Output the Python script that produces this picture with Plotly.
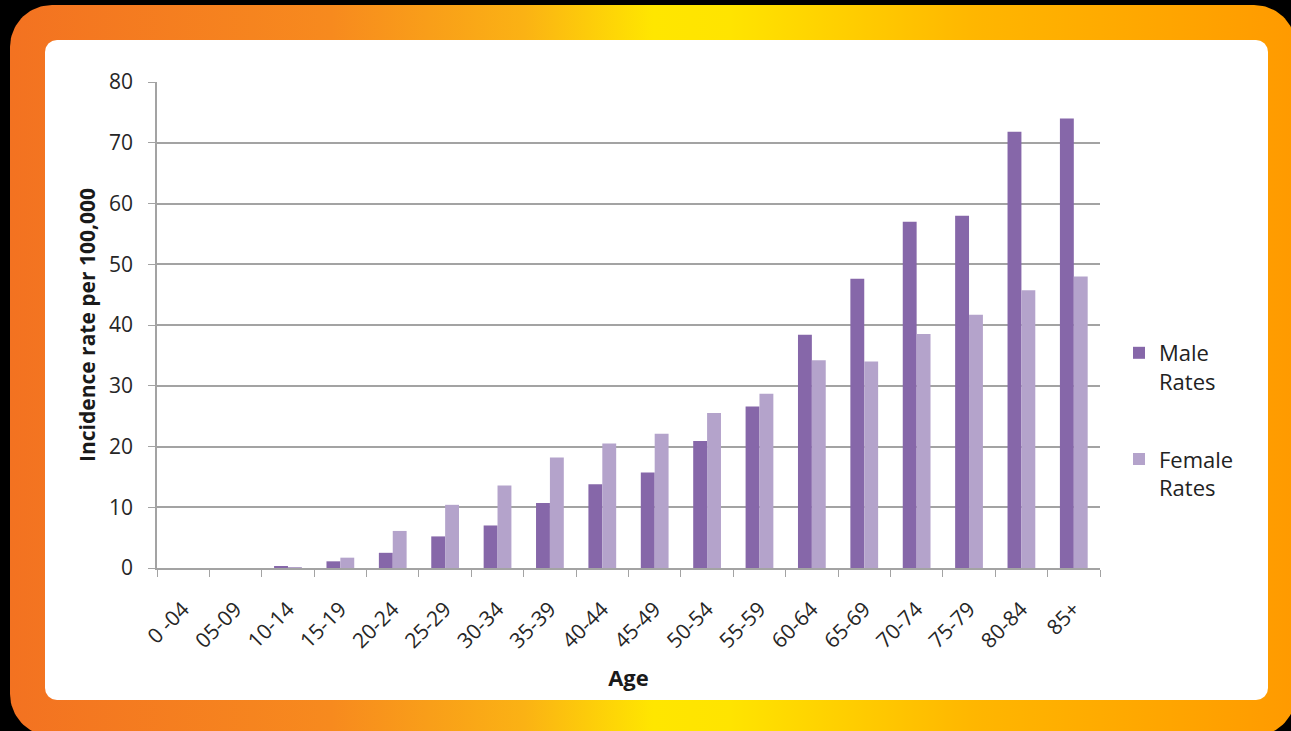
import numpy as np
import plotly.graph_objects as go

# Age bands and incidence rates per 100,000
ages = ["0 -04", "05-09", "10-14", "15-19", "20-24", "25-29", "30-34", "35-39",
        "40-44", "45-49", "50-54", "55-59", "60-64", "65-69", "70-74", "75-79",
        "80-84", "85+"]
male_rates = [0.0, 0.0, 0.2, 1.1, 2.5, 5.2, 7.0, 10.7, 13.8, 15.7, 20.9, 26.6,
              38.4, 47.6, 57.0, 58.0, 71.8, 74.0]
female_rates = [0.0, 0.0, 0.1, 1.7, 6.1, 10.4, 13.6, 18.2, 20.5, 22.1, 25.5, 28.7,
                34.2, 34.0, 38.5, 41.7, 45.7, 48.0]

W, H = 1291, 731
FONT = "Open Sans"


def rounded_rect(x0, y0, x1, y1, r, n=24):
    """Closed outline of a rounded rectangle in pixel coordinates (y down)."""
    xs, ys = [], []
    corners = [(x1 - r, y0 + r, -np.pi / 2, 0),
               (x1 - r, y1 - r, 0, np.pi / 2),
               (x0 + r, y1 - r, np.pi / 2, np.pi),
               (x0 + r, y0 + r, np.pi, 1.5 * np.pi)]
    for cx, cy, a0, a1 in corners:
        t = np.linspace(a0, a1, n)
        xs.extend(cx + r * np.cos(t))
        ys.extend(cy + r * np.sin(t))
    xs.append(xs[0])
    ys.append(ys[0])
    return xs, ys


fig = go.Figure()

# Orange-to-yellow frame and white panel behind the chart
fx, fy = rounded_rect(10, 5, 1296, 736, 42)
fig.add_trace(go.Scatter(
    x=fx, y=fy, mode="lines", line=dict(width=0), fill="toself",
    fillgradient=dict(type="horizontal",
                      colorscale=[[0, "#F37221"], [0.25, "#F78A1E"],
                                  [0.4, "#FBB214"], [0.5, "#FFE600"],
                                  [0.56, "#FFE400"], [0.75, "#FFB600"],
                                  [1, "#FF9A00"]]),
    hoverinfo="skip", showlegend=False, xaxis="x", yaxis="y"))
px_, py_ = rounded_rect(45, 40, 1268, 700, 12)
fig.add_trace(go.Scatter(
    x=px_, y=py_, mode="lines", line=dict(width=0), fill="toself",
    fillcolor="#FFFFFF", hoverinfo="skip", showlegend=False,
    xaxis="x", yaxis="y"))

# Grouped bars
fig.add_trace(go.Bar(x=ages, y=male_rates, name="Male<br>Rates",
                     marker=dict(color="#8667A9", line=dict(width=0)),
                     legendgroup="male", xaxis="x2", yaxis="y2"))
fig.add_trace(go.Bar(x=ages, y=female_rates, name="Female<br>Rates",
                     marker=dict(color="#B4A3CB", line=dict(width=0)),
                     legendgroup="female", xaxis="x2", yaxis="y2"))

plot_l, plot_r, plot_t, plot_b = 157, 1100, 82, 568
grid = "#A3A3A3"

fig.update_layout(
    width=W, height=H,
    margin=dict(l=0, r=0, t=0, b=0, pad=0, autoexpand=False),
    paper_bgcolor="#000000",
    plot_bgcolor="rgba(0,0,0,0)",
    font=dict(family=FONT, color="#262626"),
    barmode="group", bargap=0.47, bargroupgap=0,
    showlegend=True,
    legend=dict(x=1119 / W, y=1 - 332 / H, xanchor="left", yanchor="top",
                font=dict(family=FONT, size=22, color="#222222"),
                traceorder="grouped", tracegroupgap=46, valign="top",
                bgcolor="rgba(0,0,0,0)", itemwidth=30),
    xaxis=dict(domain=[0, 1], range=[0, W], visible=False, fixedrange=True,
               automargin=False),
    yaxis=dict(domain=[0, 1], range=[H, 0], visible=False, fixedrange=True,
               automargin=False),
    xaxis2=dict(domain=[plot_l / W, plot_r / W], anchor="y2", type="category",
                automargin=False,
                showline=True, linecolor=grid, linewidth=1.5,
                ticks="outside", tickson="boundaries", ticklen=7,
                tickcolor=grid, tickangle=-45, showgrid=False,
                ticklabelstandoff=19,
                tickfont=dict(family=FONT, size=21, color="#262626"),
                title=dict(text="<b>Age</b>", standoff=18,
                           font=dict(family=FONT, size=22, color="#1A1A1A"))),
    yaxis2=dict(domain=[1 - plot_b / H, 1 - plot_t / H], anchor="x2",
                automargin=False,
                range=[0, 80], dtick=10, showline=True, linecolor=grid,
                linewidth=1.5, ticks="outside", ticklen=7, tickcolor=grid,
                showgrid=True, gridcolor=grid, gridwidth=1.5, zeroline=False,
                ticklabelstandoff=11,
                tickfont=dict(family=FONT, size=21, color="#262626"),
                title=dict(text="<b>Incidence rate per 100,000</b>", standoff=8,
                           font=dict(family=FONT, size=21, color="#1A1A1A"))),
)

fig.write_html("out.html")
